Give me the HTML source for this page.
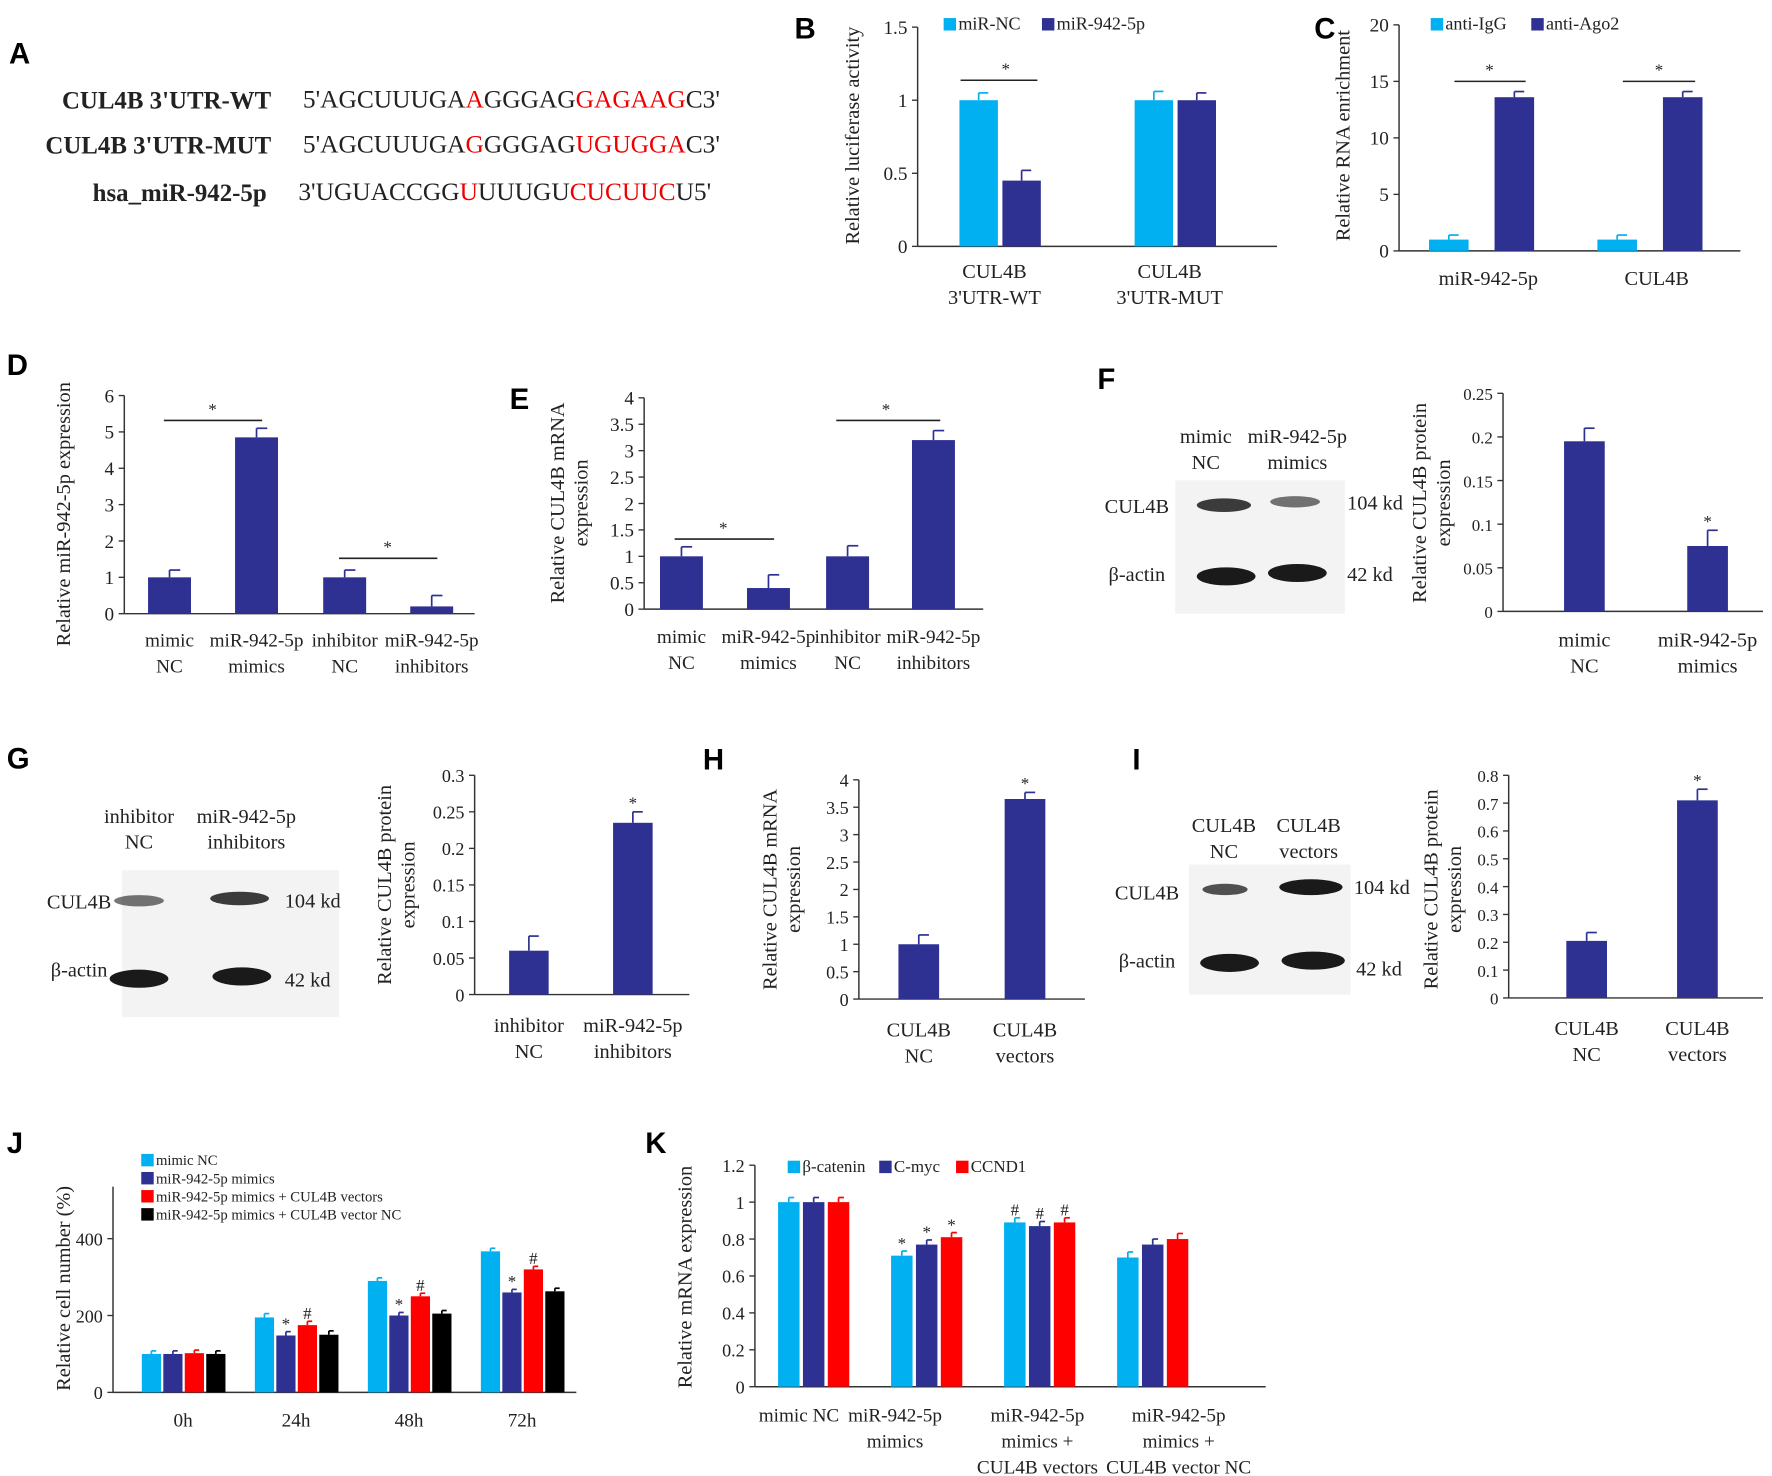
<!DOCTYPE html>
<html><head><meta charset="utf-8"><style>
html,body{margin:0;padding:0;background:#fff}
svg{display:block}
text{font-family:"Liberation Serif",serif;fill:#222}
.lt{font-family:"Liberation Sans",sans-serif;font-weight:bold;font-size:26px;fill:#000}
</style></head><body>
<svg id="fig" width="1772" height="1476" viewBox="0 0 1568 1306" preserveAspectRatio="none" xmlns="http://www.w3.org/2000/svg">
<g>
<text class="lt" x="8" y="56">A</text>
<g font-size="22"><text x="240" y="96" text-anchor="end" font-weight="bold">CUL4B 3'UTR-WT</text>
<text x="240" y="136" text-anchor="end" font-weight="bold">CUL4B 3'UTR-MUT</text>
<text x="236" y="178" text-anchor="end" font-weight="bold">hsa_miR-942-5p</text></g>
<text x="268" y="95" font-size="22.5">5'AGCUUUGA<tspan fill="#e00">A</tspan>GGGAG<tspan fill="#e00">GAGAAG</tspan>C3'</text>
<text x="268" y="135" font-size="22.5">5'AGCUUUGA<tspan fill="#e00">G</tspan>GGGAG<tspan fill="#e00">UGUGGA</tspan>C3'</text>
<text x="264" y="177" font-size="22.5">3'UGUACCGG<tspan fill="#e00">U</tspan>UUUGU<tspan fill="#e00">CUCUUC</tspan>U5'</text>
</g>
<g id="letters">
<text class="lt" x="703" y="34">B</text><text class="lt" x="1163" y="34">C</text>
<text class="lt" x="6" y="332">D</text><text class="lt" x="451" y="362">E</text>
<text class="lt" x="971" y="344">F</text><text class="lt" x="6" y="680">G</text>
<text class="lt" x="622" y="681">H</text><text class="lt" x="1002" y="681">I</text>
<text class="lt" x="6" y="1020">J</text><text class="lt" x="571" y="1020">K</text>
</g>
<g id="plots"></g>
</svg>
<script>
// ---- data ----
const bCats=["CUL4B|3'UTR-WT","CUL4B|3'UTR-MUT"];
const bNC=[1,1], bMiR=[0.45,1], bNCerr=[0.05,0.06], bMiRerr=[0.07,0.05];
const bTicks=[0,0.5,1,1.5];
const cCats=["miR-942-5p","CUL4B"];
const cIgG=[1,1], cAgo=[13.6,13.6], cIgGerr=[0.4,0.4], cAgoerr=[0.5,0.5];
const cTicks=[0,5,10,15,20];
const dCats=["mimic|NC","miR-942-5p|mimics","inhibitor|NC","miR-942-5p|inhibitors"];
const dVals=[1,4.85,1,0.2], dErr=[0.2,0.25,0.2,0.3];
const dTicks=[0,1,2,3,4,5,6];
const eVals=[1,0.4,1,3.2], eErr=[0.18,0.25,0.2,0.18];
const eTicks=[0,0.5,1,1.5,2,2.5,3,3.5,4];
const fCats=["mimic|NC","miR-942-5p|mimics"];
const fVals=[0.195,0.075], fErr=[0.015,0.018];
const fTicks=[0,0.05,0.1,0.15,0.2,0.25];
const gCats=["inhibitor|NC","miR-942-5p|inhibitors"];
const gVals=[0.06,0.235], gErr=[0.02,0.015];
const gTicks=[0,0.05,0.1,0.15,0.2,0.25,0.3];
const hCats=["CUL4B|NC","CUL4B|vectors"];
const hVals=[1,3.65], hErr=[0.17,0.12];
const hTicks=[0,0.5,1,1.5,2,2.5,3,3.5,4];
const iVals=[0.205,0.71], iErr=[0.03,0.04];
const iTicks=[0,0.1,0.2,0.3,0.4,0.5,0.6,0.7,0.8];
const jCats=["0h","24h","48h","72h"];
const jSeriesNames=["mimic NC","miR-942-5p mimics","miR-942-5p mimics + CUL4B vectors","miR-942-5p mimics + CUL4B vector NC"];
const jMimicNC=[100,195,290,367];
const jMimics=[100,148,200,260];
const jVectors=[102,175,250,320];
const jVectorNC=[100,150,205,263];
const jErr=[8,10,8,8];
const jTicks=[0,200,400];
const kCats=["mimic NC","miR-942-5p|mimics","miR-942-5p|mimics +|CUL4B vectors","miR-942-5p|mimics +|CUL4B vector NC"];
const kSeriesNames=["β-catenin","C-myc","CCND1"];
const kBcat=[1,0.71,0.89,0.70];
const kCmyc=[1,0.77,0.87,0.77];
const kCcnd=[1,0.81,0.89,0.80];
const kErr=[0.025,0.025,0.025,0.03];
const kTicks=[0,0.2,0.4,0.6,0.8,1,1.2];

const LB="#00b0f0", DB="#2e3192", RD="#ff0000", BK="#000";
const NS="http://www.w3.org/2000/svg";
const root=document.getElementById('plots');
function el(tag,attrs,parent,txt){const e=document.createElementNS(NS,tag);for(const k in attrs)e.setAttribute(k,attrs[k]);if(txt!==undefined)e.textContent=txt;(parent||root).appendChild(e);return e;}
function grp(name){const g=el('g',{});return g;}

function axes(g,x0,y0,yTop,xEnd,ticks,fs){
  const max=ticks[ticks.length-1];
  const sy=v=>y0-(v/max)*(y0-yTop);
  const ax=el('line',{x1:x0,y1:y0,x2:x0,y2:yTop,stroke:'#333','stroke-width':1.3},g);
  
  const bx=el('line',{x1:x0,y1:y0,x2:xEnd,y2:y0,stroke:'#333','stroke-width':1.3},g);
  
  ticks.forEach(t=>{
    el('line',{x1:x0-5,y1:sy(t),x2:x0,y2:sy(t),stroke:'#333','stroke-width':1.2},g);
    const tx=el('text',{x:x0-9,y:sy(t)+6,'text-anchor':'end','font-size':fs||17},g,String(t));
    
  });
  return sy;
}
function bar(g,cx,w,v,err,sy,color,name){
  const r=el('rect',{x:cx-w/2,y:sy(v),width:w,height:sy(0)-sy(v),fill:color},g);
  
  if(err){const yt=sy(v+err);el('line',{x1:cx,y1:sy(v),x2:cx,y2:yt,stroke:color,'stroke-width':1.5},g);
    el('line',{x1:cx,y1:yt,x2:cx+w/4,y2:yt,stroke:color,'stroke-width':1.5},g);}
}
function xlabel(g,cx,y,lab,fs,lh){
  lab.split('|').forEach((s,i)=>{const t=el('text',{x:cx,y:y+i*(lh||23),'text-anchor':'middle','font-size':fs||18},g,s);
    });
}
function ytitle(g,x,y,lines,fs){
  lines.forEach((s,i)=>{const t=el('text',{x:0,y:0,'text-anchor':'middle','font-size':fs||18,transform:`translate(${x+i*21},${y}) rotate(-90)`},g,s);
    });
}
function mark(g,x,y,s){el('text',{x:x,y:y,'text-anchor':'middle','font-size':15},g,s);}
function sigline(g,x1,x2,y,sx){el('line',{x1:x1,y1:y,x2:x2,y2:y,stroke:'#222','stroke-width':1.4},g);mark(g,sx,y-5,'*');}
function legend(g,x,y,color,label,fs){
  const r=el('rect',{x:x,y:y-10,width:11,height:11,fill:color},g);
  
  const t=el('text',{x:x+13,y:y,'font-size':fs||16},g,label);
  
}
function blot(g,x,y,w,h,bands){
  const r=el('rect',{x:x,y:y,width:w,height:h,fill:'#f3f3f3'},g);
  
  bands.forEach(b=>{const e=el('ellipse',{cx:b[0],cy:b[1],rx:b[2],ry:b[3],fill:'#1a1a1a',opacity:b[4]},g);
    });
}

// B
(function(){const g=grp('panel-b-chart');const sy=axes(g,812,218,24,1130,bTicks);
  const cx=[880,1035];
  bCats.forEach((c,i)=>{bar(g,cx[i]-14,34,bNC[i],bNCerr[i],sy,LB,'bar-nc');bar(g,cx[i]+24,34,bMiR[i],bMiRerr[i],sy,DB,'bar-mir');xlabel(g,cx[i],246,c);});
  sigline(g,850,918,71,890);legend(g,835,26,LB,'miR-NC');legend(g,922,26,DB,'miR-942-5p');
  ytitle(g,760,120,['Relative luciferase activity']);})();
// C
(function(){const g=grp('panel-c-chart');const sy=axes(g,1238,222,22,1540,cTicks);
  const cx=[1312,1461];
  cCats.forEach((c,i)=>{bar(g,cx[i]-30,35,cIgG[i],cIgGerr[i],sy,LB,'bar-igg');bar(g,cx[i]+28,35,cAgo[i],cAgoerr[i],sy,DB,'bar-ago2');xlabel(g,cx[i]+5,252,c);});
  sigline(g,1287,1350,72,1318);sigline(g,1436,1500,72,1468);
  legend(g,1266,26,LB,'anti-IgG');legend(g,1355,26,DB,'anti-Ago2');
  ytitle(g,1194,120,['Relative RNA enrichment']);})();
// D
(function(){const g=grp('panel-d-chart');const sy=axes(g,110,543,350,420,dTicks);
  const cx=[150,227,305,382];
  dCats.forEach((c,i)=>{bar(g,cx[i],38,dVals[i],dErr[i],sy,DB,'bar');xlabel(g,cx[i],572,c,17);});
  sigline(g,145,232,372,188);sigline(g,300,387,494,343);
  ytitle(g,62,455,['Relative miR-942-5p expression']);})();
// E
(function(){const g=grp('panel-e-chart');const sy=axes(g,570,539,352,870,eTicks);
  const cx=[603,680,750,826];
  dCats.forEach((c,i)=>{bar(g,cx[i],38,eVals[i],eErr[i],sy,DB,'bar');xlabel(g,cx[i],569,c,17);});
  sigline(g,597,685,477,640);sigline(g,740,832,372,784);
  ytitle(g,499,445,['Relative CUL4B mRNA','expression']);})();
// F
(function(){const g=grp('panel-f');
  blot(g,1040,425,150,118,[[1083,447,24,6,0.85],[1146,444,22,5,0.6],[1085,510,26,8,1],[1148,507,26,8,1]]);
  xlabel(g,1067,392,'mimic|NC',18);xlabel(g,1148,392,'miR-942-5p|mimics',18);
  el('text',{x:1006,y:454,'text-anchor':'middle','font-size':18},g,'CUL4B');el('text',{x:1006,y:514,'text-anchor':'middle','font-size':18},g,'β-actin');
  el('text',{x:1192,y:451,'font-size':18},g,'104 kd');el('text',{x:1192,y:514,'font-size':18},g,'42 kd');
  const sy=axes(g,1330,541,348,1560,fTicks,15);const cx=[1402,1511];
  fCats.forEach((c,i)=>{bar(g,cx[i],36,fVals[i],fErr[i],sy,DB,'bar');xlabel(g,cx[i],572,c);});
  mark(g,1511,sy(fVals[1]+fErr[1])-3,'*');
  ytitle(g,1262,445,['Relative CUL4B protein','expression']);})();
// G
(function(){const g=grp('panel-g');
  blot(g,108,770,192,130,[[123,797,22,5,0.6],[212,795,26,6,0.85],[123,866,26,8,1],[214,864,26,8,1]]);
  xlabel(g,123,728,'inhibitor|NC',18);xlabel(g,218,728,'miR-942-5p|inhibitors',18);
  el('text',{x:70,y:804,'text-anchor':'middle','font-size':18},g,'CUL4B');el('text',{x:70,y:864,'text-anchor':'middle','font-size':18},g,'β-actin');
  el('text',{x:252,y:803,'font-size':18},g,'104 kd');el('text',{x:252,y:873,'font-size':18},g,'42 kd');
  const sy=axes(g,420,880,686,610,gTicks,16);const cx=[468,560];
  gCats.forEach((c,i)=>{bar(g,cx[i],35,gVals[i],gErr[i],sy,DB,'bar');xlabel(g,cx[i],913,c);});
  mark(g,560,sy(gVals[1]+gErr[1])-3,'*');
  ytitle(g,346,783,['Relative CUL4B protein','expression']);})();
// H
(function(){const g=grp('panel-h-chart');const sy=axes(g,760,884,690,960,hTicks,16);const cx=[813,907];
  hCats.forEach((c,i)=>{bar(g,cx[i],36,hVals[i],hErr[i],sy,DB,'bar');xlabel(g,cx[i],917,c);});
  mark(g,907,sy(hVals[1]+hErr[1])-3,'*');
  ytitle(g,687,787,['Relative CUL4B mRNA','expression']);})();
// I
(function(){const g=grp('panel-i');
  blot(g,1052,765,143,115,[[1084,787,20,5,0.75],[1160,785,28,7,1],[1088,852,26,8,1],[1162,850,28,8,1]]);
  xlabel(g,1083,736,'CUL4B|NC',18);xlabel(g,1158,736,'CUL4B|vectors',18);
  el('text',{x:1015,y:796,'text-anchor':'middle','font-size':18},g,'CUL4B');el('text',{x:1015,y:856,'text-anchor':'middle','font-size':18},g,'β-actin');
  el('text',{x:1198,y:791,'font-size':18},g,'104 kd');el('text',{x:1200,y:863,'font-size':18},g,'42 kd');
  const sy=axes(g,1335,883,686,1560,iTicks,15);const cx=[1404,1502];
  hCats.forEach((c,i)=>{bar(g,cx[i],36,iVals[i],iErr[i],sy,DB,'bar');xlabel(g,cx[i],916,c);});
  mark(g,1502,sy(iVals[1]+iErr[1])-3,'*');
  ytitle(g,1272,787,['Relative CUL4B protein','expression']);})();
// J
(function(){const g=grp('panel-j-chart');
  const sy=axes(g,100,1232,1096,510,jTicks,16);
  el('line',{x1:100,y1:1096,x2:100,y2:1050,stroke:'#333','stroke-width':1.3},g);
  const series=[jMimicNC,jMimics,jVectors,jVectorNC],cols=[LB,DB,RD,BK];
  jCats.forEach((c,i)=>{const cx=162+i*100;
    series.forEach((s,k)=>bar(g,cx-28+k*19,17,s[i],jErr[i],sy,cols[k],'bar-'+k));
    xlabel(g,cx,1262,c,17);
    if(i>0){mark(g,cx-28+19,sy(jMimics[i]+jErr[i])-2,'*');mark(g,cx-28+38,sy(jVectors[i]+jErr[i])-2,'#');}
  });
  jSeriesNames.forEach((n,k)=>legend(g,125,1031+k*16,cols[k],n,13));
  ytitle(g,62,1140,['Relative cell number (%)']);})();
// K
(function(){const g=grp('panel-k-chart');
  const sy=axes(g,668,1227,1031,1120,kTicks,16);
  const series=[kBcat,kCmyc,kCcnd],cols=[LB,DB,RD];const lx=[707,792,918,1043];
  kCats.forEach((c,i)=>{const cx=720+i*100;
    series.forEach((s,k)=>bar(g,cx-22+k*22,19,s[i],kErr[i],sy,cols[k],'bar-'+k));
    xlabel(g,lx[i],1258,c,17,23);
    if(i===1)series.forEach((s,k)=>mark(g,cx-22+k*22,sy(s[i]+kErr[i])-2,'*'));
    if(i===2)series.forEach((s,k)=>mark(g,cx-22+k*22,sy(s[i]+kErr[i])-2,'#'));
  });
  kSeriesNames.forEach((n,k)=>legend(g,[697,778,846][k],1037,cols[k],n,15));
  ytitle(g,612,1130,['Relative mRNA expression']);})();
</script>
</body></html>
